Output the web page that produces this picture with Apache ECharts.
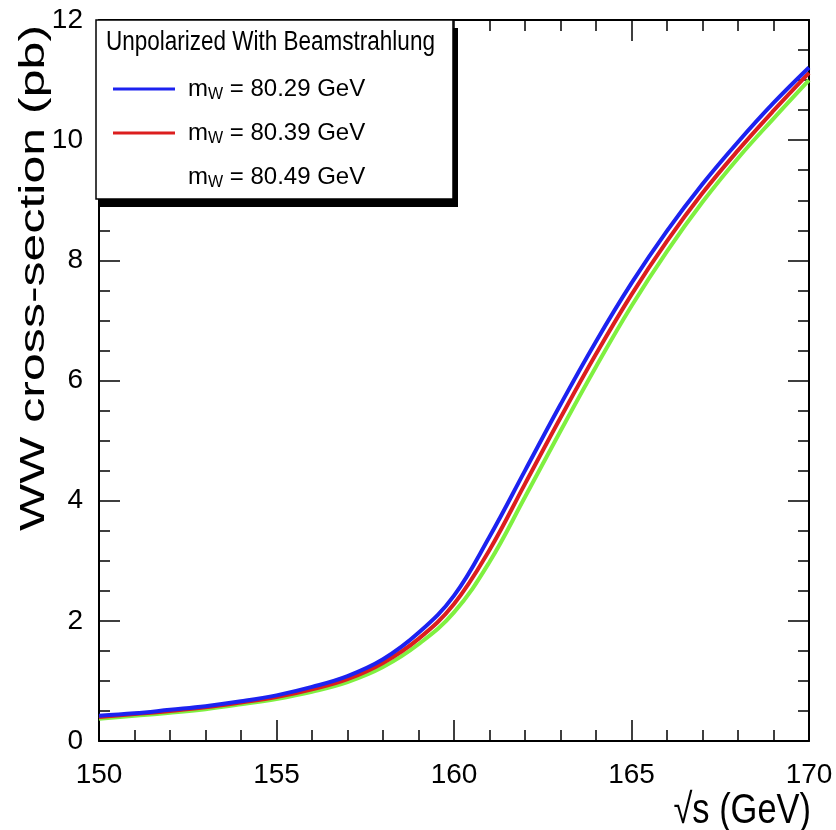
<!DOCTYPE html>
<html>
<head>
<meta charset="utf-8">
<script src="https://cdn.jsdelivr.net/npm/echarts@6/dist/echarts.min.js"></script>
<style>
html,body{margin:0;padding:0;background:#fff;}
#chart{width:836px;height:830px;}
</style>
</head>
<body>
<div id="chart"></div>
<script>
// ---- data ----
const energies = [150,151,152,153,154,155,156,157,158,159,160,161,162,163,164,165,166,167,168,169,170];
const xsBlue  = [0.42,0.46,0.52,0.58,0.66,0.76,0.90,1.08,1.36,1.80,2.42,3.40,4.50,5.60,6.65,7.62,8.49,9.27,9.97,10.62,11.21];
const xsRed   = [0.40,0.45,0.50,0.56,0.64,0.73,0.86,1.03,1.30,1.70,2.28,3.18,4.28,5.38,6.44,7.43,8.32,9.12,9.83,10.49,11.12];
const xsGreen = [0.37,0.42,0.47,0.53,0.61,0.70,0.82,0.98,1.23,1.61,2.14,2.98,4.06,5.16,6.23,7.24,8.15,8.97,9.70,10.36,11.00];
const masses = ['80.29','80.39','80.49'];
const colors = ['#1c22f0','#dc1e1e','#7ff040'];
const legendTitle = 'Unpolarized With Beamstrahlung';
const yTitle = 'WW cross-section (pb)';
const xTitle = '\u221As (GeV)';

const FONT = '"Liberation Sans", Arial, sans-serif';
const chart = echarts.init(document.getElementById('chart'));
const seriesVals = [xsBlue, xsRed, xsGreen];
const names = masses.map(m => 'mW = ' + m + ' GeV');

const axisCommon = {
  type: 'value',
  axisLine: { onZero: false, lineStyle: { color: '#000', width: 2 } },
  axisTick: { inside: true, length: 21, lineStyle: { color: '#000', width: 1.5 } },
  minorTick: { show: true, length: 11, lineStyle: { color: '#000', width: 1.5 } },
  splitLine: { show: false },
  minorSplitLine: { show: false }
};

const option = {
  backgroundColor: '#fff',
  animation: false,
  grid: { left: 99, right: 27, top: 20, bottom: 89, containLabel: false },
  xAxis: [
    Object.assign({}, axisCommon, {
      position: 'bottom', min: 150, max: 170, interval: 5,
      minorTick: Object.assign({}, axisCommon.minorTick, { splitNumber: 5 }),
      axisLabel: { fontSize: 28, color: '#000', fontFamily: FONT, margin: 20 }
    }),
    Object.assign({}, axisCommon, {
      position: 'top', min: 150, max: 170, interval: 5,
      minorTick: Object.assign({}, axisCommon.minorTick, { splitNumber: 5 }),
      axisLabel: { show: false }
    })
  ],
  yAxis: [
    Object.assign({}, axisCommon, {
      position: 'left', min: 0, max: 12, interval: 2,
      minorTick: Object.assign({}, axisCommon.minorTick, { splitNumber: 4 }),
      axisLabel: { fontSize: 28, color: '#000', fontFamily: FONT, margin: 16 }
    }),
    Object.assign({}, axisCommon, {
      position: 'right', min: 0, max: 12, interval: 2,
      minorTick: Object.assign({}, axisCommon.minorTick, { splitNumber: 4 }),
      axisLabel: { show: false }
    })
  ],
  legend: {
    orient: 'vertical', left: 108, top: 72, z: 20,
    itemWidth: 62, itemHeight: 3, itemGap: 18, icon: 'rect',
    data: names.map((n, i) => i === 2 ? { name: n, itemStyle: { opacity: 0 } } : { name: n }),
    formatter: function (name) {
      const i = names.indexOf(name);
      return '{m|m}{s|W}{t| = ' + masses[i] + ' GeV}';
    },
    textStyle: {
      color: '#000', fontFamily: FONT, fontSize: 24, padding: [0, 0, 0, 8],
      rich: {
        m: { fontSize: 24, fontFamily: FONT, color: '#000' },
        s: { fontSize: 16, fontFamily: FONT, color: '#000', padding: [12, 0, 0, 0] },
        t: { fontSize: 24, fontFamily: FONT, color: '#000' }
      }
    },
    selectedMode: false
  },
  graphic: [
    { type: 'rect', z: 5, shape: { x: 100, y: 28, width: 358, height: 179 }, style: { fill: '#000' } },
    { type: 'rect', z: 6, shape: { x: 96, y: 20, width: 357, height: 179 }, style: { fill: '#fff', stroke: '#000', lineWidth: 1.5 } },
    { type: 'text', z: 7, x: 106, y: 42, scaleX: 0.9, scaleY: 1.1, style: { text: legendTitle, font: '25px ' + FONT, fill: '#000', textVerticalAlign: 'middle', textAlign: 'left' } },
    { type: 'text', z: 7, x: 34, y: 278, rotation: Math.PI / 2, scaleX: 1.43,
      style: { text: yTitle, font: '35px ' + FONT, fill: '#000', textAlign: 'center', textVerticalAlign: 'middle' } },
    { type: 'text', z: 7, x: 811, y: 811, scaleX: 0.82, style: { text: xTitle, font: '42px ' + FONT, fill: '#000', textAlign: 'right', textVerticalAlign: 'middle' } }
  ],
  series: seriesVals.map((vals, i) => ({
    type: 'line', name: names[i], xAxisIndex: 0, yAxisIndex: 0,
    data: energies.map((e, k) => [e, vals[k]]),
    smooth: 0.4, showSymbol: false, symbol: 'none',
    lineStyle: { color: colors[i], width: 4 }, itemStyle: { color: colors[i] },
    z: 3 - i
  }))
};
chart.setOption(option);
</script>
</body>
</html>
